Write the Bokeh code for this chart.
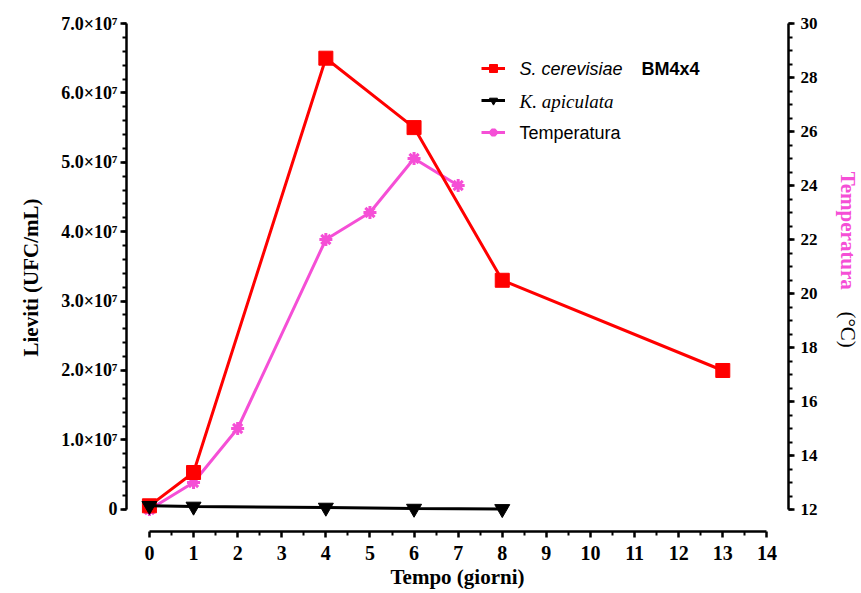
import math
from bokeh.plotting import figure
from bokeh.layouts import row
from bokeh.core.properties import value
from bokeh.models import (Range1d, LinearAxis, FixedTicker, CustomJSTickFormatter,
                          Legend, LegendItem, Label)
from bokeh.embed import file_html
from bokeh.resources import INLINE

# ---- data ----
days_sc = [0, 1, 4, 6, 8, 13]
sc_ufc = [0.05e7, 0.53e7, 6.5e7, 5.5e7, 3.3e7, 2.0e7]
days_ka = [0, 1, 4, 6, 8]
ka_ufc = [0.05e7, 0.04e7, 0.025e7, 0.01e7, 0.005e7]
days_t = [0, 1, 2, 4, 5, 6, 7]
temp_c = [12, 13, 15, 22, 23, 25, 24]
x_ticks = list(range(0, 15))
y_ticks = [0, 1e7, 2e7, 3e7, 4e7, 5e7, 6e7, 7e7]
t_ticks = [12, 14, 16, 18, 20, 22, 24, 26, 28, 30]

RED = "#FF0000"
PINK = "#F54FD6"
SERIF = "Liberation Serif"
SANS = "Liberation Sans"

p = figure(frame_width=662, frame_height=508, output_backend="svg", toolbar_location=None,
           x_range=Range1d(-0.52, 14.49), y_range=Range1d(-0.32e7, 7.0e7),
           min_border_left=126, min_border_right=40, min_border_top=23,
           min_border_bottom=58, x_axis_location=None, y_axis_location=None)
p.extra_y_ranges = {"temp": Range1d(12 - 22 / 27.0, 30)}
p.xgrid.visible = False
p.ygrid.visible = False
p.outline_line_color = None
p.background_fill_color = "white"
p.border_fill_color = "white"


def style_axis(ax, tick_size, label_size="21px"):
    ax.axis_line_width = 2.5
    ax.axis_line_color = "black"
    ax.major_tick_line_width = 2.5
    ax.minor_tick_line_width = 2
    ax.major_tick_out = 6
    ax.major_tick_in = 0
    ax.minor_tick_out = 4
    ax.minor_tick_in = 0
    ax.major_label_text_font = SERIF
    ax.major_label_text_font_style = "bold"
    ax.major_label_text_font_size = tick_size
    ax.major_label_text_color = "black"
    ax.axis_label_text_font = SERIF
    ax.axis_label_text_font_style = "bold"
    ax.axis_label_text_font_size = label_size
    ax.axis_label_text_color = "black"


xax = LinearAxis(ticker=FixedTicker(ticks=x_ticks,
                                    minor_ticks=[i + 0.5 for i in range(14)]),
                 bounds=(0, 14), axis_label="Tempo (giorni)")
style_axis(xax, "20px")
xax.major_label_standoff = 8
xax.axis_label_standoff = 2
p.add_layout(xax, "below")

yfmt = CustomJSTickFormatter(code="""
if (tick == 0) { return "0"; }
const m = tick / 1e7;
return m.toFixed(1) + "\u00d710\u2077";
""")
yax = LinearAxis(ticker=FixedTicker(ticks=y_ticks,
                                    minor_ticks=[i * 0.2e7 for i in range(36)]),
                 bounds=(0, 7e7), formatter=yfmt, axis_label="Lieviti (UFC/mL)")
style_axis(yax, "18px")
yax.major_label_standoff = 3
yax.axis_label_standoff = 15
p.add_layout(yax, "left")

tax = LinearAxis(y_range_name="temp",
                 ticker=FixedTicker(ticks=t_ticks,
                                    minor_ticks=[12 + i * 0.5 for i in range(37)]),
                 bounds=(12, 30))
style_axis(tax, "17px")
tax.major_label_standoff = 6
p.add_layout(tax, "right")

# ---- series ----
r_t_line = p.line(days_t, temp_c, y_range_name="temp", line_color=PINK, line_width=3)
r_t_pts = p.scatter(days_t, temp_c, y_range_name="temp", marker="asterisk",
                    size=13, line_color=PINK, line_width=3)
r_sc_line = p.line(days_sc, sc_ufc, line_color=RED, line_width=3)
r_sc_pts = p.scatter(days_sc, sc_ufc, marker="square", size=14,
                     fill_color=RED, line_color=RED)
r_ka_line = p.line(days_ka, ka_ufc, line_color="black", line_width=3)
r_ka_pts = p.scatter(days_ka, ka_ufc, marker="inverted_triangle", size=15,
                     fill_color="black", line_color="black")

legend = Legend(items=[
    LegendItem(label=" ", renderers=[r_sc_line, r_sc_pts]),
    LegendItem(label=" ", renderers=[r_ka_line, r_ka_pts]),
    LegendItem(label=" ", renderers=[r_t_line, r_t_pts]),
], location=(355, 389), padding=0, margin=0, spacing=12,
    glyph_width=24, glyph_height=20, label_height=20,
    border_line_color=None, background_fill_alpha=0, label_text_font_size="1px")
p.add_layout(legend, "center")


def lab(x, y, text, **kw):
    p.add_layout(Label(x=x, y=y, x_units="screen", y_units="screen",
                       text=text, text_baseline="middle", **kw))


# legend texts (screen units, relative to the frame)
lab(393, 463, "S. cerevisiae", text_font=SANS, text_font_style="italic",
    text_font_size="18px", text_color="black")
lab(515, 463, "BM4x4", text_font=SANS, text_font_style="bold",
    text_font_size="18px", text_color="black")
lab(393, 430, "K. apiculata", text_font=SERIF, text_font_style="italic",
    text_font_size="19px", text_color="black")
lab(393, 399, "Temperatura", text_font=SANS, text_font_style="normal",
    text_font_size="18px", text_color="black")

# ---- right-hand title strip (two colours), its own tiny canvas ----
t = figure(width=32, height=593, output_backend="svg", toolbar_location=None,
           x_range=Range1d(0, 32), y_range=Range1d(0, 593),
           min_border=0, x_axis_location=None, y_axis_location=None)
t.xgrid.visible = False
t.ygrid.visible = False
t.outline_line_color = None
t.text(x=[19], y=[593 - 241], text=["Temperatura"], angle=-math.pi / 2,
       text_align="center", text_baseline="middle", text_font=value(SERIF),
       text_font_style="bold", text_font_size="21px", text_color=PINK)
t.text(x=[19], y=[593 - 356], text=["(°C)"], angle=-math.pi / 2,
       text_align="center", text_baseline="middle", text_font=value(SERIF),
       text_font_style="normal", text_font_size="21px", text_color="black")

layout = row(p, t, spacing=0)
open("out.html", "w").write(file_html(layout, INLINE))
